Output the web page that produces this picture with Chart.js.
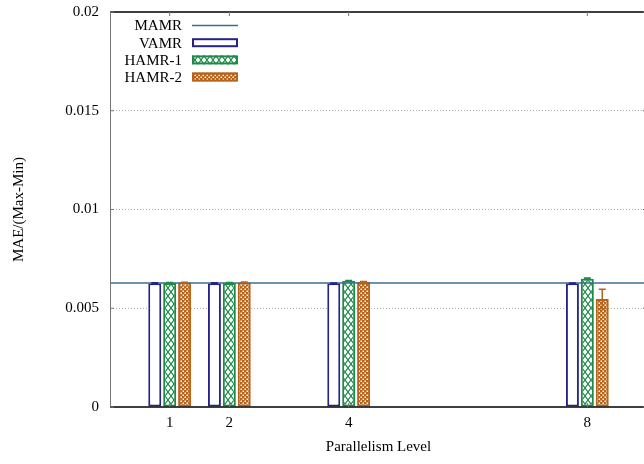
<!DOCTYPE html>
<html>
<head>
<meta charset="utf-8">
<script src="https://cdn.jsdelivr.net/npm/chart.js@4.4.1/dist/chart.umd.min.js"></script>
<style>
    html, body { margin: 0; padding: 0; background: #fff; overflow: hidden; }
    #wrap { width: 650px; height: 464px; }
</style>
</head>
<body>
<div id="wrap"><canvas id="chart" width="650" height="464"></canvas></div>
<script>
// ---- data ----
const levels = [1, 2, 4, 8];
const xTicks = [1, 2, 4, 8];
const yTicks = [0, 0.005, 0.01, 0.015, 0.02];
const seriesNames = ['MAMR', 'VAMR', 'HAMR-1', 'HAMR-2'];

const mamr = 0.00628;
const vamr = [0.00627, 0.00627, 0.00627, 0.00627];
const hamr1 = [0.00628, 0.00628, 0.00639, 0.00649];
const hamr2 = [0.0063, 0.00631, 0.00634, 0.00547];
const vamrErr = [0.00002, 0.00002, 0.00001, 0.00001];
const hamr1Err = [0.00002, 0.00002, 0.00002, 0.00004];
const hamr2Err = [0.00002, 0.00002, 0.00002, 0.00049];

// ---- colours ----
const C_MAMR = '#3b6f8e';
const C_VAMR = '#23238a';
const C_H1 = '#1e8a48';
const C_H2 = '#b8631a';
const FONT = 'Liberation Serif';

// fill patterns for the hatched bars
function makePattern(w, h, draw) {
    const c = document.createElement('canvas');
    c.width = w; c.height = h;
    draw(c.getContext('2d'), w, h);
    return c.getContext('2d').createPattern(c, 'repeat');
}
const crossPattern = makePattern(6, 8, (g, w, h) => {
    g.fillStyle = '#fff';
    g.fillRect(0, 0, w, h);
    g.strokeStyle = C_H1;
    g.lineWidth = 1.2;
    g.beginPath();
    g.moveTo(0, 0); g.lineTo(w, h);
    g.moveTo(w, 0); g.lineTo(0, h);
    g.stroke();
});
const checkPattern = makePattern(4, 4, (g, w, h) => {
    g.fillStyle = C_H2;
    g.fillRect(0, 0, w, h);
    g.fillStyle = '#fff';
    g.fillRect(0.5, 0.5, 1.5, 1.5);
    g.fillRect(2.5, 2.5, 1.5, 1.5);
});

const toPoints = (vals) => vals.map((v, i) => ({ x: levels[i], y: v }));

// ---- plugins ----
// error bars on top of each bar
const errorBars = {
    id: 'errorBars',
    afterDatasetsDraw(chart) {
        const { ctx } = chart;
        const y = chart.scales.y;
        chart.data.datasets.forEach((ds, di) => {
            if (!ds.errors) return;
            const meta = chart.getDatasetMeta(di);
            meta.data.forEach((bar, i) => {
                const v = ds.data[i].y, e = ds.errors[i];
                const top = y.getPixelForValue(v + e);
                const bot = y.getPixelForValue(v - e);
                ctx.save();
                ctx.strokeStyle = ds.borderColor;
                ctx.lineWidth = 1.5;
                ctx.beginPath();
                ctx.moveTo(bar.x, top); ctx.lineTo(bar.x, bot);
                ctx.moveTo(bar.x - 3.5, top); ctx.lineTo(bar.x + 3.5, top);
                ctx.moveTo(bar.x - 3.5, bot); ctx.lineTo(bar.x + 3.5, bot);
                ctx.stroke();
                ctx.restore();
            });
        });
    }
};

// gnuplot style frame with inward ticks
const frame = {
    id: 'frame',
    afterDraw(chart) {
        const { ctx, chartArea: a } = chart;
        const xs = chart.scales.x, ys = chart.scales.y;
        ctx.save();
        ctx.strokeStyle = '#000';
        ctx.lineWidth = 1.5;
        ctx.beginPath();
        ctx.moveTo(a.left, a.top); ctx.lineTo(a.right, a.top); ctx.lineTo(a.right, a.bottom);
        ctx.moveTo(a.left, a.bottom); ctx.lineTo(a.right, a.bottom);
        ctx.stroke();
        ctx.strokeStyle = '#777';
        ctx.lineWidth = 1;
        ctx.beginPath();
        ctx.moveTo(a.left + 0.5, a.top); ctx.lineTo(a.left + 0.5, a.bottom);
        xTicks.forEach((t) => {
            const px = xs.getPixelForValue(t);
            ctx.moveTo(px, a.bottom); ctx.lineTo(px, a.bottom - 4);
            ctx.moveTo(px, a.top); ctx.lineTo(px, a.top + 4);
        });
        yTicks.forEach((t) => {
            const py = ys.getPixelForValue(t);
            ctx.moveTo(a.left, py); ctx.lineTo(a.left + 4, py);
            ctx.moveTo(a.right, py); ctx.lineTo(a.right - 4, py);
        });
        ctx.stroke();
        ctx.restore();
    }
};

// key in the upper left: label then sample
const key = {
    id: 'key',
    afterDraw(chart) {
        const { ctx } = chart;
        const rows = [25.5, 42.7, 59.9, 77];
        const fills = [null, '#fff', crossPattern, checkPattern];
        const strokes = [C_MAMR, C_VAMR, C_H1, C_H2];
        ctx.save();
        ctx.font = '15px "' + FONT + '"';
        ctx.fillStyle = '#000';
        ctx.textAlign = 'right';
        ctx.textBaseline = 'middle';
        seriesNames.forEach((name, i) => {
            const cy = rows[i];
            ctx.fillStyle = '#000';
            ctx.fillText(name, 182, cy + 1);
            if (i === 0) {
                ctx.strokeStyle = C_MAMR;
                ctx.lineWidth = 1.5;
                ctx.beginPath();
                ctx.moveTo(192, cy); ctx.lineTo(238, cy);
                ctx.stroke();
            } else {
                ctx.fillStyle = fills[i];
                ctx.fillRect(192, cy - 4.5, 46, 9);
                ctx.strokeStyle = strokes[i];
                ctx.lineWidth = 2;
                ctx.strokeRect(193, cy - 3.5, 44, 7);
            }
        });
        ctx.restore();
    }
};

// ---- chart ----
const ctx = document.getElementById('chart').getContext('2d');
new Chart(ctx, {
    type: 'bar',
    data: {
        datasets: [
            {
                type: 'line',
                label: seriesNames[0],
                data: [{ x: 0, y: mamr }, { x: 9, y: mamr }],
                borderColor: C_MAMR,
                borderWidth: 1.5,
                pointRadius: 0,
                order: 0
            },
            {
                label: seriesNames[1],
                data: toPoints(vamr),
                errors: vamrErr,
                backgroundColor: '#fff',
                borderColor: C_VAMR,
                borderWidth: 2,
                borderSkipped: false,
                order: 1
            },
            {
                label: seriesNames[2],
                data: toPoints(hamr1),
                errors: hamr1Err,
                backgroundColor: crossPattern,
                borderColor: C_H1,
                borderWidth: 2,
                borderSkipped: false,
                order: 1
            },
            {
                label: seriesNames[3],
                data: toPoints(hamr2),
                errors: hamr2Err,
                backgroundColor: checkPattern,
                borderColor: C_H2,
                borderWidth: 2,
                borderSkipped: false,
                order: 1
            }
        ]
    },
    options: {
        responsive: false,
        animation: false,
        categoryPercentage: 0.75,
        barPercentage: 0.87,
        layout: { padding: { top: 12, right: 3, left: 0, bottom: 0 } },
        plugins: {
            legend: { display: false },
            tooltip: { enabled: false }
        },
        scales: {
            x: {
                type: 'linear',
                min: 0,
                max: 9,
                offset: false,
                afterBuildTicks: (s) => { s.ticks = xTicks.map((v) => ({ value: v })); },
                afterFit: (s) => { s.height = 57; },
                grid: { display: false, drawTicks: false },
                border: { display: false },
                ticks: {
                    color: '#000',
                    padding: 7,
                    font: { family: FONT, size: 15 },
                    callback: (v) => String(v)
                },
                title: {
                    display: true,
                    text: 'Parallelism Level',
                    color: '#000',
                    font: { family: FONT, size: 15 },
                    padding: { top: 0, bottom: 8 }
                }
            },
            y: {
                min: 0,
                max: 0.02,
                afterBuildTicks: (s) => { s.ticks = yTicks.map((v) => ({ value: v })); },
                afterFit: (s) => { s.width = 110; },
                grid: {
                    drawTicks: false,
                    lineWidth: 1,
                    color: (c) => (c.tick && c.tick.value > 0 && c.tick.value < 0.02) ? '#b0b0b0' : 'rgba(0,0,0,0)'
                },
                border: { display: false, dash: [1, 2] },
                ticks: {
                    color: '#000',
                    padding: 11,
                    font: { family: FONT, size: 15, lineHeight: 0.05 },
                    callback: (v) => String(v)
                },
                title: {
                    display: true,
                    text: 'MAE/(Max-Min)',
                    color: '#000',
                    font: { family: FONT, size: 15 },
                    padding: { top: 10, bottom: 0 }
                }
            }
        }
    },
    plugins: [errorBars, frame, key]
});
</script>
</body>
</html>
